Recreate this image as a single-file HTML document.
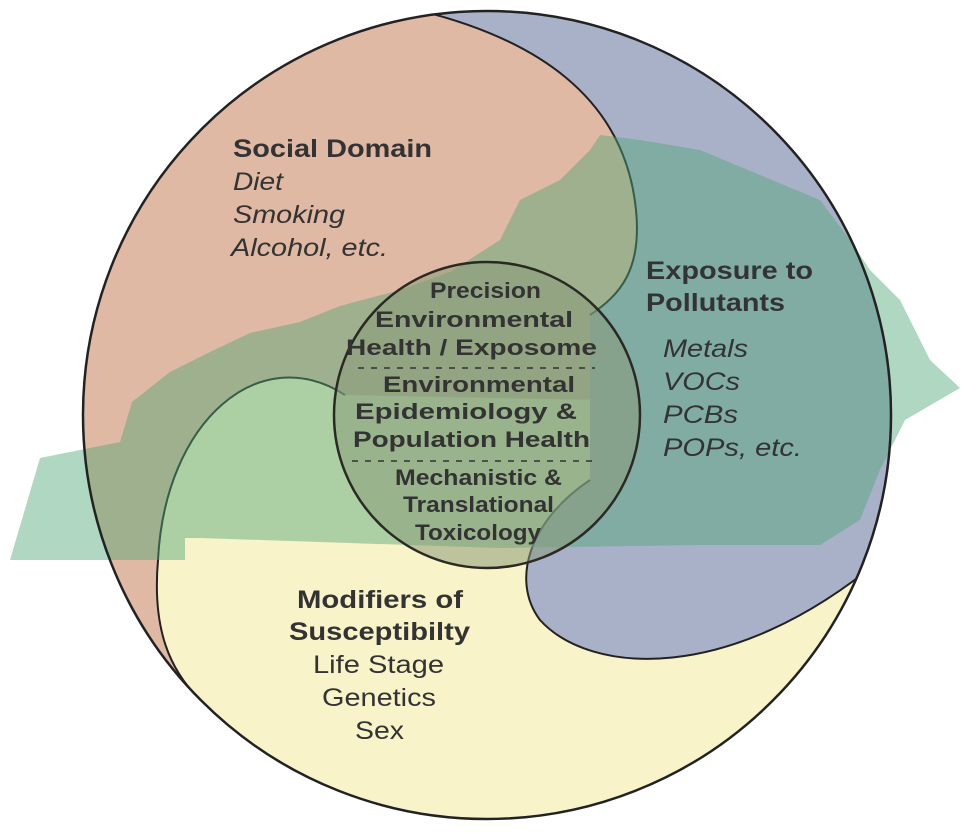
<!DOCTYPE html>
<html><head><meta charset="utf-8"><style>
html,body{margin:0;padding:0;background:#fff;width:962px;height:833px;overflow:hidden;}
svg{display:block;}
text{font-family:"Liberation Sans",Arial,sans-serif;fill:#333;}
.b{font-weight:bold;}
.i{font-style:italic;}
</style></head><body>
<svg width="962" height="833" viewBox="0 0 962 833" xmlns="http://www.w3.org/2000/svg">
<defs>
<clipPath id="oc"><circle cx="487" cy="415" r="404"/></clipPath>
</defs>
<circle cx="487" cy="415" r="404" fill="#dfb9a3"/>
<g clip-path="url(#oc)">
<path d="M345,395 C260,340 165,420 158,560 C152,630 170,670 200,700 L200,900 L950,900 L950,400 L600,400 Z" fill="#f8f3c8"/>
<path d="M395,5 C540,35 625,100 636,210 C642,270 620,295 590,315 L590,480 C530,520 510,580 540,620 C590,675 730,685 880,560 L1000,560 L1000,0 Z" fill="#a9b1c9"/>
<path d="M345,395 C260,340 165,420 158,560 C152,630 170,670 200,700" fill="none" stroke="#222" stroke-width="2"/>
<path d="M395,5 C540,35 625,100 636,210 C642,270 620,295 590,315" fill="none" stroke="#222" stroke-width="2"/>
<path d="M590,480 C530,520 510,580 540,620 C590,675 730,685 880,560" fill="none" stroke="#222" stroke-width="2"/>
</g>
<path d="M10,560 L40,458 L120,442 L132,402 L170,372 L210,352 L250,333 L300,322 L340,306 L400,290 L450,272 L500,240 L520,200 L560,180 L590,150 L600,135 L640,140 L700,150 L760,175 L820,200 L850,240 L870,270 L900,300 L930,360 L960,388 L905,420 L880,470 L860,520 L820,545 L700,545 L500,548 L200,538 L185,538 L185,560 Z" fill="#4fa676" fill-opacity="0.45"/>
<circle cx="487" cy="415" r="404" fill="none" stroke="#222" stroke-width="2.5"/>
<circle cx="487" cy="415" r="153" fill="#8a9a7a" fill-opacity="0.55" stroke="#2a2a22" stroke-width="2.5"/>
<line x1="358" y1="368" x2="595" y2="368" stroke="#333" stroke-width="1.5" stroke-dasharray="6,7"/>
<line x1="352" y1="461" x2="592" y2="461" stroke="#333" stroke-width="1.5" stroke-dasharray="6,7"/>
<g class="b" font-size="22">
<text x="430" y="298" textLength="111" lengthAdjust="spacingAndGlyphs">Precision</text>
<text x="375" y="327" textLength="198" lengthAdjust="spacingAndGlyphs">Environmental</text>
<text x="346" y="355" textLength="251" lengthAdjust="spacingAndGlyphs">Health / Exposome</text>
<text x="383" y="392" textLength="192" lengthAdjust="spacingAndGlyphs">Environmental</text>
<text x="355" y="419" textLength="222" lengthAdjust="spacingAndGlyphs">Epidemiology &amp;</text>
<text x="353" y="447" textLength="237" lengthAdjust="spacingAndGlyphs">Population Health</text>
<text x="395" y="485" textLength="167" lengthAdjust="spacingAndGlyphs">Mechanistic &amp;</text>
<text x="403" y="512" textLength="151" lengthAdjust="spacingAndGlyphs">Translational</text>
<text x="415" y="540" textLength="126" lengthAdjust="spacingAndGlyphs">Toxicology</text>
</g>
<text x="233" y="157" class="b" font-size="25" textLength="199" lengthAdjust="spacingAndGlyphs">Social Domain</text>
<g class="i" font-size="25">
<text x="233" y="190" textLength="50" lengthAdjust="spacingAndGlyphs">Diet</text>
<text x="233" y="223" textLength="112" lengthAdjust="spacingAndGlyphs">Smoking</text>
<text x="231" y="256" textLength="157" lengthAdjust="spacingAndGlyphs">Alcohol, etc.</text>
</g>
<text x="646" y="279" class="b" font-size="25" textLength="167" lengthAdjust="spacingAndGlyphs">Exposure to</text>
<text x="646" y="311" class="b" font-size="25" textLength="139" lengthAdjust="spacingAndGlyphs">Pollutants</text>
<g class="i" font-size="25">
<text x="663" y="357" textLength="85" lengthAdjust="spacingAndGlyphs">Metals</text>
<text x="663" y="390" textLength="77" lengthAdjust="spacingAndGlyphs">VOCs</text>
<text x="663" y="423" textLength="75" lengthAdjust="spacingAndGlyphs">PCBs</text>
<text x="663" y="456" textLength="139" lengthAdjust="spacingAndGlyphs">POPs, etc.</text>
</g>
<g font-size="25">
<text x="297" y="608" class="b" textLength="166" lengthAdjust="spacingAndGlyphs">Modifiers of</text>
<text x="289" y="640" class="b" textLength="181" lengthAdjust="spacingAndGlyphs">Susceptibilty</text>
<text x="313" y="673" textLength="131" lengthAdjust="spacingAndGlyphs">Life Stage</text>
<text x="322" y="706" textLength="114" lengthAdjust="spacingAndGlyphs">Genetics</text>
<text x="355" y="739" textLength="49" lengthAdjust="spacingAndGlyphs">Sex</text>
</g>
</svg>
</body></html>
